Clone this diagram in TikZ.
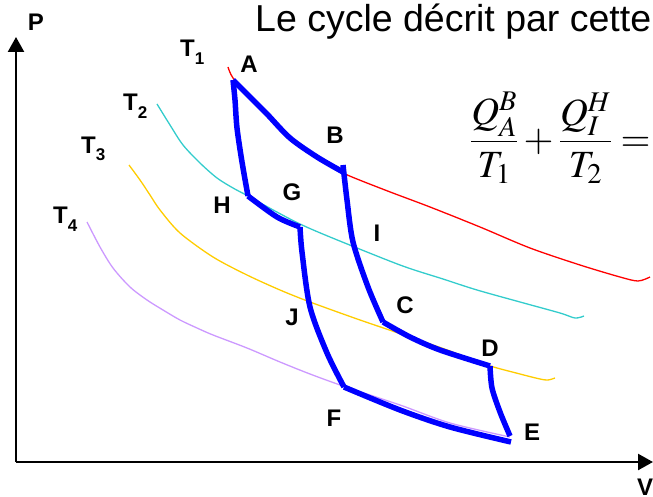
\documentclass[tikz,border=0pt]{standalone}
\usepackage{amsmath}
\usepackage{mathptmx}
\usepackage{fontspec}
\setmainfont{Liberation Sans}
\usetikzlibrary{arrows.meta}
\definecolor{isoone}{RGB}{255,0,0}
\definecolor{isotwo}{RGB}{51,204,204}
\definecolor{isothree}{RGB}{255,204,0}
\definecolor{isofour}{RGB}{204,153,255}
\definecolor{cycblue}{RGB}{0,0,255}
\newcommand{\tlab}[1]{T\raisebox{-0.32em}{\fontsize{17}{17}\selectfont #1}}
\tikzset{
  axe/.style  ={draw=black, line width=2.4pt, -{Triangle[length=15pt,width=16pt]}},
  iso/.style  ={line width=1.3pt},
  cyc/.style  ={draw=cycblue, line width=5.5pt, line cap=butt, line join=round},
  lab/.style  ={font=\fontsize{24}{24}\selectfont\bfseries, inner sep=0pt},
  ttl/.style  ={font=\fontsize{37.5}{40}\selectfont, inner sep=0pt},
}

\begin{document}
\begin{tikzpicture}[x=1pt,y=-1pt]
  \useasboundingbox (0,0) rectangle (653,497);
  \clip (0,0) rectangle (653,497);
  % axes
  \coordinate (O) at (16,462);
  \coordinate (Ptip) at (16,37);
  \coordinate (Vtip) at (653,462);
  \draw[axe] (O) -- (Ptip);
  \draw[axe] (O) -- (Vtip);
  \node[lab] (P) at (36,22) {P};
  \node[lab] (V) at (645,487) {V};
  % isotherms
  \draw[iso,isoone] plot[smooth,tension=0.5] coordinates {(228,67) (233,78) (250,97) (267,114) (290,138) (317,157) (343,173) (385,190) (430,207) (480,227) (530,248) (580,265) (620,277) (638,281) (650,277)};
  \draw[iso,isotwo] plot[smooth,tension=0.5] coordinates {(157,104) (170,125) (183,145) (200,163) (217,178) (233,188) (248,196) (275,211) (300,224) (330,237) (400,265) (443,279) (477,290) (520,302) (560,313) (575,318) (584,316)};
  \draw[iso,isothree] plot[smooth,tension=0.5] coordinates {(129,165) (140,180) (150,195) (160,210) (180,233) (213,257) (247,275) (280,290) (310,302) (360,320) (410,337) (450,351) (487,365) (520,374) (540,379) (548,380) (555,378)};
  \draw[iso,isofour] plot[smooth,tension=0.5] coordinates {(87,222) (100,247) (113,268) (130,287) (147,300) (163,310) (180,320) (197,328) (213,335) (247,348) (280,362) (310,374) (343,386) (400,405) (450,423) (510,437)};
  % cycle corners
  \coordinate (cA) at (233,80);
  \coordinate (cB) at (343,172);
  \coordinate (cC) at (383,322);
  \coordinate (cD) at (490,366);
  \coordinate (cE) at (510,436);
  \coordinate (cF) at (344,387);
  \coordinate (cG) at (300,227);
  \coordinate (cH) at (248,196);
  % cycle
  \draw[cyc] plot[smooth,tension=0.5] coordinates {(cA) (250,97) (267,114) (290,138) (317,157) (cB)};
  \draw[cyc] plot[smooth,tension=0.5] coordinates {(343,165) (347,200) (353,242) (368,287) (cC)};
  \draw[cyc] plot[smooth,tension=0.5] coordinates {(cC) (410,337) (440,350) (cD)};
  \draw[cyc] plot[smooth,tension=0.5] coordinates {(cD) (492,388) (500,412) (cE)};
  \draw[cyc] plot[smooth,tension=0.5] coordinates {(511,442) (450,427) (400,410) (cF)};
  \draw[cyc] plot[smooth,tension=0.5] coordinates {(cF) (327,353) (310,307) (302,252) (cG)};
  \draw[cyc] plot[smooth,tension=0.5] coordinates {(cG) (277,217) (cH)};
  \draw[cyc] plot[smooth,tension=0.5] coordinates {(cH) (242,162) (237,128) (235,100) (cA)};
  % labels
  \node[lab] (tA) at (249,64) {A};
  \node[lab] (tB) at (335,135) {B};
  \node[lab] (tC) at (405,305) {C};
  \node[lab] (tD) at (490,348) {D};
  \node[lab] (tE) at (532,432) {E};
  \node[lab] (tF) at (334,418) {F};
  \node[lab] (tG) at (292,192) {G};
  \node[lab] (tH) at (222,205) {H};
  \node[lab] (tI) at (377,233) {I};
  \node[lab] (tJ) at (292,317) {J};
  \node[lab,anchor=west] (tone) at (180,52) {\tlab{1}};
  \node[lab,anchor=west] (ttwo) at (123,106) {\tlab{2}};
  \node[lab,anchor=west] (tthree) at (81,149) {\tlab{3}};
  \node[lab,anchor=west] (tfour) at (53,219) {\tlab{4}};
  % title and relation
  \node[ttl,anchor=base west] (title) at (255,32) {Le cycle décrit par cette};
  \node[anchor=west,inner sep=0pt,font=\fontsize{38.5}{44}\selectfont] (rel) at (470,138)
    {$\dfrac{Q_A^B}{T_1}+\dfrac{Q_I^H}{T_2}=$};
\end{tikzpicture}
\end{document}
